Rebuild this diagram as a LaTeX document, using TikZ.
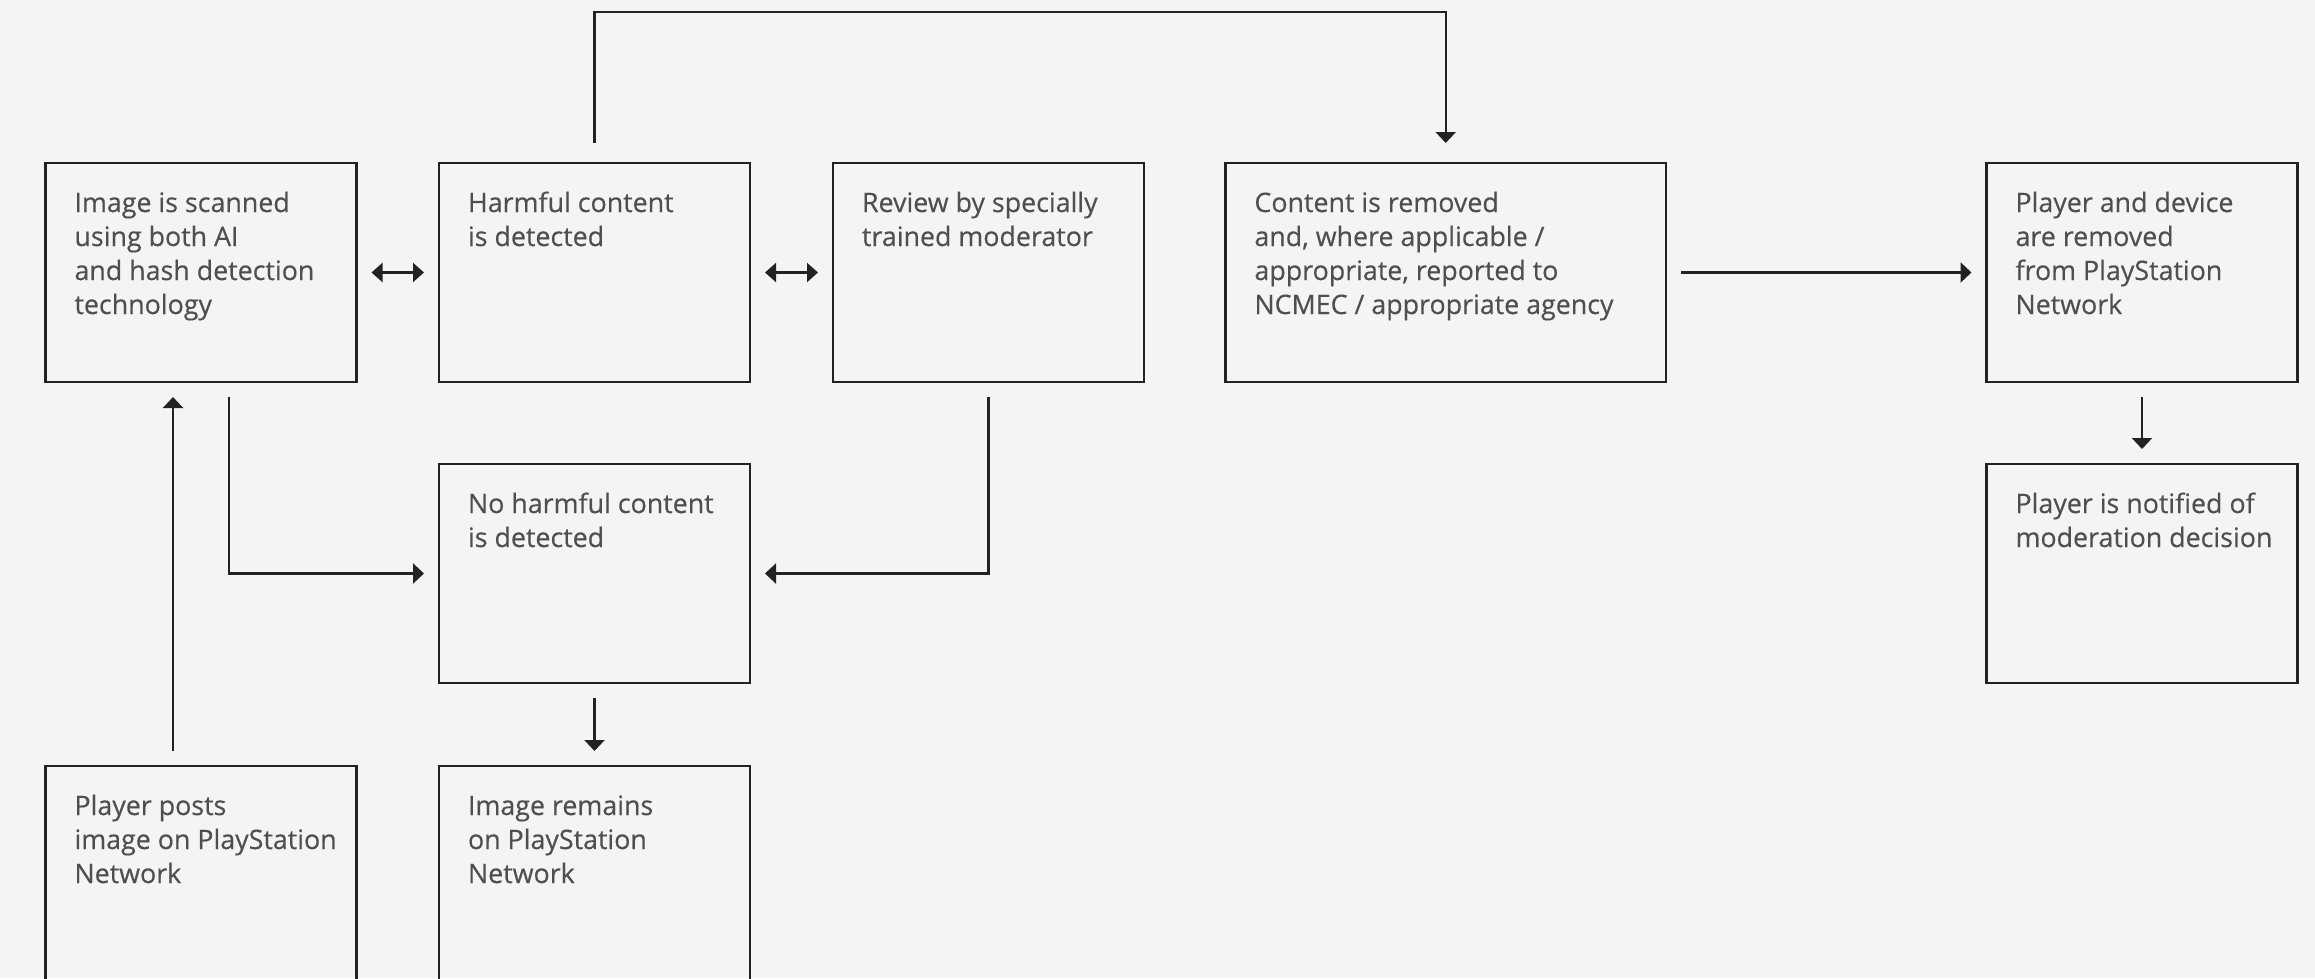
\documentclass[tikz,border=0pt]{standalone}
\usepackage{fontspec}
\setmainfont{Open Sans}
\newfontfamily\boxfont{Open Sans}[FakeBold=0.35]
\usetikzlibrary{arrows.meta}
\definecolor{bgc}{HTML}{F4F4F4}
\definecolor{linec}{HTML}{222222}
\definecolor{txtc}{HTML}{4F4F4F}
\tikzset{
  box/.style={draw=linec, line width=2.6pt, rectangle, minimum width=311pt, minimum height=219pt, inner sep=0pt, outer sep=0pt},
  wbox/.style={box, minimum width=440.5pt},
  txt/.style={anchor=base west, inner sep=0pt, outer sep=0pt, text=txtc, font=\boxfont\fontsize{26.8pt}{34pt}\selectfont},
  conn/.style={draw=linec, line width=2.2pt},
  arr/.style={conn, -{Triangle[length=11pt, width=20pt]}},
  darr/.style={conn, {Triangle[length=11pt, width=19pt]}-{Triangle[length=11pt, width=19pt]}},
  gap/.style={shorten <=15pt, shorten >=15pt}
}
\newcommand{\boxtext}[2]{\node[txt] at ([xshift=29pt,yshift=-49pt]#1.north west) {\parbox[t]{420pt}{\raggedright #2}};}
\begin{document}
\begin{tikzpicture}[x=1pt,y=-1pt]
\fill[bgc] (0,0) rectangle (2315,978);
\useasboundingbox (0,0) rectangle (2315,978);
\clip (0,0) rectangle (2315,978);
% boxes
\node[box]  (b1) at (201,272.5) {};
\node[box]  (b2) at (594.5,272.5) {};
\node[box]  (b3) at (988.5,272.5) {};
\node[wbox] (b4) at (1445.7,272.5) {};
\node[box]  (b5) at (2142,272.5) {};
\node[box]  (b6) at (594.5,573.5) {};
\node[box]  (b7) at (2142,573.5) {};
\node[box]  (b8) at (201,875.5) {};
\node[box]  (b9) at (594.5,875.5) {};
% texts
\boxtext{b1}{Image is scanned\\using both AI\\and hash detection\\technology}
\boxtext{b2}{Harmful content\\is detected}
\boxtext{b3}{Review by specially\\trained moderator}
\boxtext{b4}{Content is removed\\and, where applicable /\\appropriate, reported to\\NCMEC / appropriate agency}
\boxtext{b5}{Player and device\\are removed\\from PlayStation\\Network}
\boxtext{b6}{No harmful content\\is detected}
\boxtext{b7}{Player is notified of\\moderation decision}
\boxtext{b8}{Player posts\\image on PlayStation\\Network}
\boxtext{b9}{Image remains\\on PlayStation\\Network}
% connectors
\draw[darr, gap] (b1.east) -- (b2.west);
\draw[darr, gap] (b2.east) -- (b3.west);
\draw[arr] ([yshift=20pt]b2.north) -- ([yshift=151pt]b2.north) -| ([yshift=20pt]b4.north);
\draw[arr, gap] (b4.east) -- (b5.west);
\draw[arr, gap] (b5.south) -- (b7.north);
\draw[arr] ([xshift=28pt,yshift=-15pt]b1.south) |- ([xshift=-15pt]b6.west);
\draw[arr] ([yshift=-15pt]b3.south) |- ([xshift=15pt]b6.east);
\draw[arr, gap] (b6.south) -- (b9.north);
\draw[arr] ([xshift=-28pt,yshift=15pt]b8.north) -- ([xshift=-28pt,yshift=-15pt]b1.south);
\end{tikzpicture}
\end{document}
